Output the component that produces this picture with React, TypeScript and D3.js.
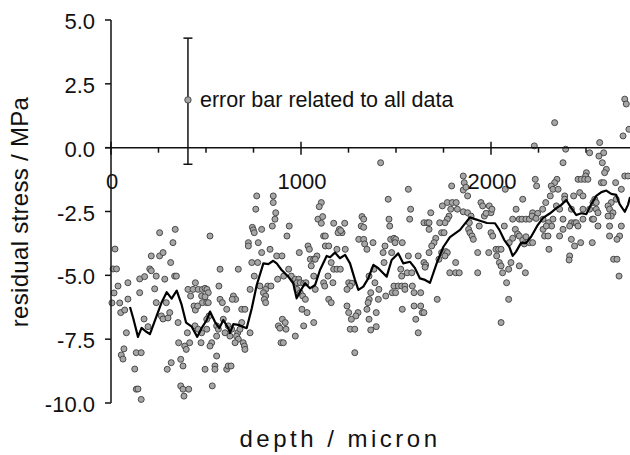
import React from "react";
import * as d3 from "d3";

// depth (micron), residual stress (MPa)
const measurements: [number, number][] = [
  [21,-3.97],[11,-4.75],[29,-4.75],[16,-5.69],[37,-5.42],[5,-6.08],[46,-6.08],[51,-6.46],[72,-6.36],[89,-5.29],
  [89,-5.93],[81,-7.25],[68,-7.88],[54,-8.12],[63,-8.28],[125,-8.67],[133,-8.03],[159,-8.03],[133,-9.46],[142,-9.45],
  [159,-9.86],[151,-5.68],[151,-5.14],[177,-5.05],[174,-6.71],[195,-7.01],[204,-4.75],[212,-4.82],[212,-4.24],[238,-5.03],
  [256,-3.33],[256,-4.24],[274,-4.11],[230,-5.53],[238,-6.07],[265,-6.59],[274,-6.71],[283,-5.15],[291,-6.07],[300,-6.67],
  [309,-6.46],[314,-4.5],[326,-3.72],[338,-3.2],[335,-5.03],[344,-5.03],[317,-8.42],[296,-8.68],[353,-6.85],[356,-7.64],
  [367,-8.29],[379,-8.55],[388,-7.77],[396,-7.9],[414,-7.64],[402,-7.25],[405,-5.55],[432,-5.55],[419,-5.81],[437,-6.2],
  [444,-6.36],[444,-5.29],[367,-9.33],[379,-9.46],[409,-9.46],[384,-9.73],
  [767,-1.89],[854,-1.89],[854,-2.15],[762,-2.41],[867,-2.55],[863,-2.8],[744,-3.12],[749,-3.22],[754,-3.33],[793,-3.2],
  [849,-3.07],[521,-3.46],[723,-3.72],[723,-3.85],[775,-3.72],[837,-3.98],[793,-4.11],[741,-4.5],[772,-4.5],[872,-4.24],
  [574,-4.76],[670,-4.76],[754,-5.03],[877,-5.15],[568,-5.42],[784,-5.42],[825,-5.42],[842,-5.42],[732,-5.55],[814,-5.55],
  [802,-5.68],[814,-5.81],[807,-5.94],[814,-6.07],[459,-5.55],[481,-5.55],[495,-5.51],[505,-5.55],[512,-5.68],[477,-5.81],
  [495,-5.84],[481,-6.07],[504,-6.07],[512,-6.07],[456,-6.2],[644,-5.81],[656,-5.94],[638,-5.94],[574,-5.94],[586,-6.07],
  [609,-6.33],[688,-6.33],[705,-6.33],[516,-6.59],[504,-6.72],[442,-6.98],[459,-7.11],[504,-7.11],[477,-7.25],[556,-6.98],
  [565,-7.11],[591,-6.72],[600,-7.25],[556,-7.38],[617,-6.98],[626,-7.38],[635,-7.11],[667,-7.25],[679,-7.11],[688,-6.85],
  [661,-7.38],[670,-7.5],[653,-7.64],[696,-7.64],[702,-7.77],[705,-7.9],[732,-7.25],[474,-7.64],[530,-7.64],[521,-7.77],
  [556,-8.16],[495,-8.68],[547,-8.55],[547,-8.68],[609,-8.68],[617,-8.55],[632,-8.55],[533,-9.33],[881,-6.98],[889,-7.07],
  [895,-7.64],[907,-7.64],[902,-6.72],
  [1107,-2.15],[1096,-2.31],[1089,-2.8],[1114,-2.7],[1107,-2.96],[1172,-2.96],[1230,-2.96],[1202,-3.2],[1216,-3.33],[1195,-3.33],
  [1209,-3.25],[938,-3.07],[926,-3.46],[1119,-3.46],[1128,-3.46],[1321,-2.7],[1330,-2.8],[1317,-3.07],[1330,-3.12],[1304,-3.59],
  [1330,-3.59],[1335,-3.77],[1347,-3.98],[1037,-3.85],[1044,-3.98],[991,-4.11],[1128,-3.85],[1146,-3.85],[1189,-3.98],[1233,-3.98],
  [900,-4.24],[1049,-4.37],[1067,-4.37],[1084,-4.24],[1075,-4.37],[1054,-4.63],[1159,-4.5],[1172,-4.76],[1189,-4.76],[1207,-4.76],
  [1142,-5.03],[1168,-5.29],[1119,-5.29],[1125,-5.42],[1067,-5.03],[935,-4.76],[949,-5.03],[970,-5.15],[988,-5.15],[979,-5.29],
  [996,-5.29],[1014,-5.31],[1026,-5.29],[1075,-5.55],[979,-5.55],[909,-5.03],[996,-5.68],[1009,-5.81],[1023,-5.94],[1251,-5.29],
  [1268,-5.31],[1259,-5.42],[1242,-5.55],[1146,-5.94],[1159,-6.07],[1242,-6.2],[1359,-5.94],[1353,-6.07],[1347,-6.33],[1005,-6.33],
  [1032,-6.46],[1251,-6.46],[1300,-6.46],[1289,-6.59],[1265,-6.72],[1067,-6.85],[917,-6.85],[921,-7.11],[1014,-6.98],[1259,-7.11],
  [1283,-7.11],[970,-7.38],[1283,-8.03],
  [1419,-0.59],[1565,-1.63],[1459,-2.02],[1793,-1.5],[1577,-2.41],[1572,-2.8],[1463,-2.8],[1467,-3.07],[1683,-2.55],[1647,-2.94],
  [1665,-2.94],[1674,-2.94],[1744,-2.28],[1770,-2.15],[1796,-2.15],[1817,-2.15],[1788,-2.41],[1823,-2.41],[1779,-2.68],[1770,-2.8],
  [1758,-2.94],[1730,-2.94],[1674,-3.2],[1740,-3.33],[1753,-3.33],[1709,-3.55],[1700,-3.72],[1688,-3.85],[1472,-3.59],[1489,-3.55],
  [1498,-3.59],[1495,-3.72],[1533,-3.72],[1379,-3.72],[1442,-3.85],[1432,-4.11],[1477,-4.11],[1565,-4.24],[1617,-4.24],[1647,-4.5],
  [1656,-4.59],[1653,-4.68],[1674,-4.11],[1726,-4.37],[1740,-4.11],[1762,-4.07],[1770,-4.11],[1758,-4.24],[1814,-4.5],[1783,-4.9],
  [1814,-4.9],[1437,-4.5],[1384,-4.76],[1525,-4.76],[1559,-4.9],[1583,-4.9],[1530,-5.03],[1358,-5.03],[1389,-5.29],[1489,-5.42],
  [1512,-5.42],[1530,-5.42],[1547,-5.42],[1586,-5.42],[1480,-5.68],[1498,-5.68],[1547,-5.55],[1595,-5.68],[1630,-5.68],[1410,-5.55],
  [1446,-5.81],[1367,-5.68],[1407,-5.94],[1717,-5.94],[1396,-6.46],[1533,-6.33],[1595,-6.2],[1630,-6.2],[1638,-6.46],[1647,-6.46],
  [1604,-6.72],[1367,-7.14],[1396,-7.01],[1617,-7.25],[1358,-6.72],
  [2228,0.07],[1854,-1.11],[2233,-1.24],[2240,-1.5],[1859,-1.37],[1854,-1.66],[1868,-1.55],[2075,-1.63],[1877,-1.89],[2167,-2.02],
  [1947,-2.15],[1956,-2.28],[1991,-2.28],[2000,-2.55],[2005,-2.41],[2132,-2.41],[2219,-2.55],[2246,-2.57],[2272,-2.41],[1854,-2.51],
  [1877,-2.55],[1965,-2.68],[1974,-2.57],[1895,-2.68],[2114,-2.8],[2149,-2.8],[2163,-2.8],[2184,-2.8],[2202,-2.8],[2216,-2.68],
  [2237,-2.77],[1886,-2.94],[1938,-3.07],[1882,-3.2],[1889,-3.33],[1900,-3.46],[1907,-3.59],[2070,-3.07],[2128,-3.2],[2140,-3.38],
  [2000,-3.33],[2009,-3.46],[2114,-3.55],[2149,-3.46],[2167,-3.62],[2175,-3.77],[2184,-3.49],[2202,-3.72],[2219,-3.72],[2096,-3.72],
  [2026,-3.98],[2040,-3.98],[2053,-3.98],[2030,-4.24],[1930,-4.11],[1988,-4.11],[2044,-4.5],[2053,-4.63],[2105,-4.5],[2149,-4.63],
  [2061,-4.9],[2093,-4.76],[1833,-4.9],[1930,-4.9],[2181,-4.9],[2082,-5.29],[2093,-5.94],[2053,-6.85],
  [2704,1.9],[2712,1.71],[2335,0.98],[2726,0.72],[2695,0.46],[2572,0.2],[2393,-0.06],[2519,-0.2],[2593,-0.2],[2568,-0.33],
  [2586,-0.59],[2379,-0.59],[2607,-0.85],[2598,-0.98],[2502,-0.98],[2498,-1.11],[2704,-1.11],[2721,-1.11],[2458,-1.24],[2475,-1.24],
  [2493,-1.24],[2510,-1.24],[2347,-1.24],[2335,-1.37],[2317,-1.5],[2581,-1.37],[2593,-1.37],[2656,-1.37],[2326,-1.63],[2353,-1.63],
  [2467,-1.76],[2484,-1.89],[2435,-1.89],[2686,-1.63],[2288,-2.15],[2388,-1.89],[2388,-2.02],[2312,-1.89],[2546,-2.02],[2537,-2.15],
  [2554,-2.15],[2633,-2.15],[2659,-2.02],[2344,-2.28],[2361,-2.41],[2484,-2.41],[2423,-2.41],[2519,-2.41],[2554,-2.41],[2563,-2.55],
  [2616,-2.28],[2624,-2.41],[2642,-2.55],[2633,-2.68],[2274,-2.8],[2326,-2.8],[2379,-2.8],[2423,-2.94],[2440,-2.94],[2449,-2.94],
  [2484,-2.8],[2533,-2.8],[2540,-2.8],[2616,-2.68],[2302,-2.94],[2319,-3.07],[2274,-3.2],[2291,-3.07],[2379,-3.2],[2414,-3.07],
  [2458,-3.07],[2563,-3.07],[2624,-3.07],[2686,-3.07],[2282,-3.46],[2300,-3.46],[2361,-3.46],[2423,-3.59],[2624,-3.46],[2677,-3.46],
  [2663,-3.59],[2472,-3.72],[2440,-3.85],[2533,-3.72],[2305,-3.98],[2414,-4.24],[2411,-4.4],[2645,-4.37],[2663,-4.37],[2674,-5.03],
];

const movingAverage: [number, number][] = [
  [100,-6.24],[117,-6.68],[142,-7.41],[161,-7.06],[188,-7.22],[205,-7.3],[232,-6.75],[267,-6.05],[293,-5.66],[319,-5.91],
  [346,-5.6],[372,-6.16],[395,-6.85],[425,-7.01],[454,-7.41],[477,-7.07],[504,-6.75],[521,-6.42],[547,-6.82],[570,-7.07],
  [591,-6.75],[617,-7.07],[626,-7.26],[644,-6.91],[670,-6.94],[714,-7.07],[741,-6.29],[767,-5.38],[802,-4.53],[828,-4.56],
  [854,-4.43],[872,-4.53],[898,-4.79],[933,-5.05],[959,-5.31],[977,-5.9],[995,-5.64],[1021,-5.31],[1047,-5.51],[1074,-5.38],
  [1100,-4.79],[1135,-4.24],[1153,-4.29],[1179,-4.11],[1205,-4.33],[1232,-4.2],[1258,-4.53],[1284,-5.18],[1302,-5.57],[1328,-5.44],
  [1354,-5.12],[1381,-4.59],[1407,-4.72],[1433,-4.92],[1451,-5.05],[1477,-4.4],[1512,-4.14],[1538,-4.53],[1574,-4.47],[1600,-4.72],
  [1626,-5.12],[1653,-5.18],[1679,-5.29],[1714,-4.53],[1749,-3.89],[1784,-3.5],[1837,-3.22],[1889,-2.73],[1916,-2.8],[1942,-2.86],
  [1979,-2.95],[2021,-2.96],[2044,-3.22],[2070,-3.62],[2096,-3.88],[2114,-4.24],[2132,-4.07],[2158,-3.73],[2184,-3.74],[2211,-3.49],
  [2246,-3.03],[2274,-2.75],[2311,-2.57],[2344,-2.37],[2370,-2.24],[2396,-2.05],[2423,-2.37],[2449,-2.64],[2475,-2.57],[2502,-2.6],
  [2528,-2.21],[2554,-1.89],[2581,-1.74],[2607,-1.68],[2633,-1.81],[2659,-1.85],[2677,-2.21],[2704,-2.51],[2721,-2.24],[2732,-1.93],
];

// error bar annotation: depth, mean, low, high
const errorBar = { depth: 405, mean: 1.87, low: -0.65, high: 4.29 };
const errorLabel = "error bar related to all data";

const xMajorTicks = [0, 1000, 2000];
const xMinorTicks = [250, 500, 750, 1250, 1500, 1750, 2250, 2500];
const yTicks = [5, 2.5, 0, -2.5, -5, -7.5, -10];
const xTitle = "depth / micron";
const yTitle = "residual stress / MPa";

export default function App() {
  const W = 630, H = 455;
  const x = d3.scaleLinear().domain([0, 2000]).range([111, 491]);
  const y = d3.scaleLinear().domain([-10, 5]).range([403, 20]);
  const line = d3.line<[number, number]>().x((d) => x(d[0])).y((d) => y(d[1]));
  const font = "'Liberation Sans', Arial, sans-serif";
  const x0 = x(0);
  const y0 = y(0);
  const xEnd = x(2740);

  return (
    <svg width={W} height={H} style={{ position: "absolute", left: 0, top: 0, background: "#fff" }} fontFamily={font}>
      <rect width={W} height={H} fill="#fff" />
      {/* scatter */}
      <g>
        {measurements.map((d, i) => (
          <circle key={i} cx={x(d[0])} cy={y(d[1])} r={3} fill="#a6a6a6" stroke="#4a4a4a" strokeWidth={1} />
        ))}
      </g>
      {/* moving average */}
      <path d={line(movingAverage) || ""} fill="none" stroke="#000" strokeWidth={2.2} strokeLinejoin="round" />

      {/* y axis */}
      <line x1={x0} x2={x0} y1={y(5)} y2={y(-10)} stroke="#111" strokeWidth={1.5} />
      {yTicks.map((t) => (
        <g key={t}>
          <line x1={x0 - 6} x2={x0} y1={y(t)} y2={y(t)} stroke="#111" strokeWidth={1.5} />
          <text x={95} y={y(t) + 9} textAnchor="end" fontSize={22} fill="#111">
            {t.toFixed(1)}
          </text>
        </g>
      ))}
      {/* x axis */}
      <line x1={x0 - 6} x2={xEnd} y1={y0} y2={y0} stroke="#111" strokeWidth={1.5} />
      {xMajorTicks.map((t) => (
        <g key={t}>
          <line x1={x(t)} x2={x(t)} y1={y0 - 6} y2={y0 + 7} stroke="#111" strokeWidth={1.5} />
          <text x={x(t) + 1} y={189} textAnchor="middle" fontSize={22} fill="#111">
            {t}
          </text>
        </g>
      ))}
      {xMinorTicks.map((t) => (
        <line key={t} x1={x(t)} x2={x(t)} y1={y0} y2={y0 + 5} stroke="#111" strokeWidth={1.5} />
      ))}

      {/* error bar */}
      <g stroke="#111" strokeWidth={1.5}>
        <line x1={x(errorBar.depth)} x2={x(errorBar.depth)} y1={y(errorBar.high)} y2={y(errorBar.low)} />
        <line x1={x(errorBar.depth) - 4.5} x2={x(errorBar.depth) + 4.5} y1={y(errorBar.high)} y2={y(errorBar.high)} />
        <line x1={x(errorBar.depth) - 4.5} x2={x(errorBar.depth) + 4.5} y1={y(errorBar.low)} y2={y(errorBar.low)} />
      </g>
      <circle cx={x(errorBar.depth)} cy={y(errorBar.mean)} r={3.2} fill="#a6a6a6" stroke="#4a4a4a" strokeWidth={1} />
      <text x={200} y={y(errorBar.mean) + 7} fontSize={21.5} fill="#111">
        {errorLabel}
      </text>

      {/* titles */}
      <text x={340} y={447} textAnchor="middle" fontSize={24} letterSpacing={3.5} fill="#111">
        {xTitle}
      </text>
      <text transform={`translate(28, 212) rotate(-90)`} textAnchor="middle" fontSize={24} letterSpacing={0.3} fill="#111">
        {yTitle}
      </text>
    </svg>
  );
}
